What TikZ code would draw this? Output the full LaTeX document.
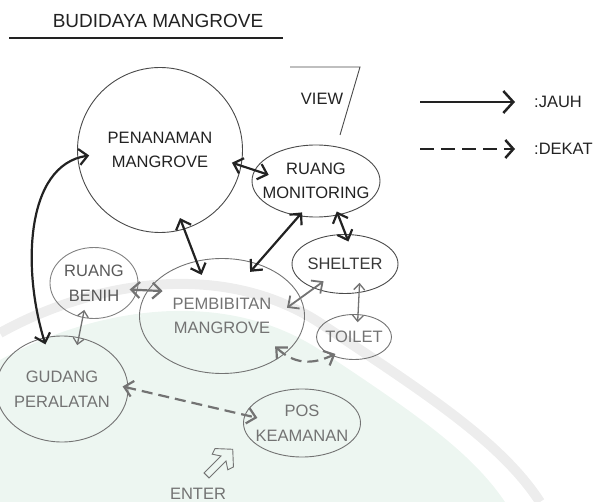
\documentclass[tikz,border=0pt]{standalone}
\usepackage{fontspec}
\setmainfont{Liberation Sans}
\usepackage{tikz}
\usetikzlibrary{shapes.geometric, arrows.meta}
\definecolor{ink}{HTML}{222222}
\definecolor{rim}{HTML}{4A4A4A}
\definecolor{fade}{HTML}{737373}
\definecolor{wmgreen}{HTML}{EDF6F1}
\definecolor{wmgray}{HTML}{EDEDED}
\tikzset{
    room/.style={ellipse, draw=#1, line width=0.9pt, align=center, inner sep=-12pt,
        font=\fontsize{16.5}{24.5}\selectfont},
    room/.default=rim,
    label/.style={inner sep=0pt, font=\fontsize{16.5}{20}\selectfont},
    jauh/.style={line width=2.2pt,
        {Straight Barb[length=8.5pt,width=16pt]}-{Straight Barb[length=8.5pt,width=16pt]}},
    dekat/.style={jauh, dash pattern=on 11pt off 6pt},
    tipis/.style={line width=1.3pt,
        {Straight Barb[length=6pt,width=11pt]}-{Straight Barb[length=6pt,width=11pt]}}
}

\begin{document}
\begin{tikzpicture}[x=1pt, y=-1pt]
    \useasboundingbox (0,0) rectangle (609,502);

    % watermark
    \fill[wmgreen] (0,360) .. controls (90,310) and (220,285) .. (320,350)
        .. controls (410,410) and (470,450) .. (505,502) -- (0,502) -- cycle;
    \draw[wmgray, line width=10pt] (0,333) .. controls (90,283) and (220,258) .. (320,323)
        .. controls (420,390) and (500,440) .. (540,502);

    % title
    \node[label, font=\fontsize{19}{22}\selectfont, text=ink] (title) at (158,21) {BUDIDAYA MANGROVE};
    \draw[ink, line width=2pt] (9,38) -- (283,38);

    % rooms (upper)
    \node[room, circle, minimum size=165pt, text=ink] (pen) at (160,150) {PENANAMAN\\MANGROVE};
    \node[room, minimum width=128pt, minimum height=72pt, text=ink] (mon) at (316,181) {RUANG\\MONITORING};
    \node[room, minimum width=106pt, minimum height=59pt, text=ink!90] (she) at (345,264) {SHELTER};

    % rooms (lower, faded)
    \node[room=fade!90, minimum width=88pt, minimum height=71pt, text=ink!75] (ben) at (94,283) {RUANG\\BENIH};
    \node[room=fade, minimum width=165pt, minimum height=115pt, text=fade] (pem) at (222,316) {PEMBIBITAN\\MANGROVE};
    \node[room=fade, minimum width=75pt, minimum height=45pt, text=fade] (toi) at (354,337) {TOILET};
    \node[room=fade, minimum width=132pt, minimum height=106pt, text=fade] (gud) at (62,389) {GUDANG\\PERALATAN};
    \node[room=fade, minimum width=117pt, minimum height=68pt, text=fade] (pos) at (302,423) {POS\\KEAMANAN};

    % view
    \node[label, text=ink] (view) at (322,99) {VIEW};
    \draw[rim, line width=0.9pt] (290,67) -- (360,67) -- (340,135);

    % enter
    \node[label, text=fade] (enter) at (198,494) {ENTER};
    \begin{scope}[shift={(220,462)}, rotate=45]
        \draw[fade, line width=0.9pt] (-19,-3.5) -- (5,-3.5) -- (0,-11) -- (6,-13) -- (18,0)
            -- (6,13) -- (0,11) -- (5,3.5) -- (-19,3.5) -- cycle;
    \end{scope}

    % legend
    \coordinate (jauhS) at (420,102);
    \coordinate (dekatS) at (420,149);
    \node[label, anchor=west, text=ink] (jauhL) at (534,102) {:JAUH};
    \node[label, anchor=west, text=ink] (dekatL) at (534,149) {:DEKAT};
    \draw[ink, line width=2.5pt, -{Straight Barb[length=10pt,width=22pt]}, shorten >=19pt] (jauhS) -- (jauhL.west);
    \draw[ink, line width=2.5pt, dash pattern=on 14pt off 7pt,
        -{Straight Barb[length=8pt,width=18pt]}, shorten >=19pt] (dekatS) -- (dekatL.west);

    % jauh relations
    \draw[jauh, ink, shorten <=-7pt, shorten >=-12pt] (gud.110) .. controls (22,270) and (25,165) .. (pen.185);
    \draw[jauh, ink, shorten <=-10pt, shorten >=-15pt] (pen.-11) -- (mon.170);
    \draw[jauh, ink, shorten <=-12pt, shorten >=-15pt] (pen.-73) -- (pem.115);
    \draw[jauh, ink, shorten <=-5pt, shorten >=-11pt] (mon.244) -- (pem.56);
    \draw[jauh, ink, shorten <=-4pt, shorten >=-8pt] (mon.303) -- (she.89);
    \draw[jauh, fade, shorten <=-8pt, shorten >=-15pt] (ben.-9) -- (pem.161);
    \draw[jauh, fade, line width=1.8pt, shorten <=-17pt, shorten >=-12pt] (pem.13) -- (she.218);
    \draw[tipis, fade, shorten <=-8pt, shorten >=-8pt] (ben.252) -- (gud.72);
    \draw[tipis, fade, shorten <=-10pt, shorten >=-8pt] (she.296) -- (toi.80);

    % dekat relations
    \draw[dekat, fade, shorten <=-12pt, shorten >=-4pt] (pem.-32) .. controls (298,368) and (318,362) .. (toi.-140);
    \draw[dekat, fade, shorten <=-6pt, shorten >=-13pt] (gud.1) -- (pos.172);
\end{tikzpicture}
\end{document}
